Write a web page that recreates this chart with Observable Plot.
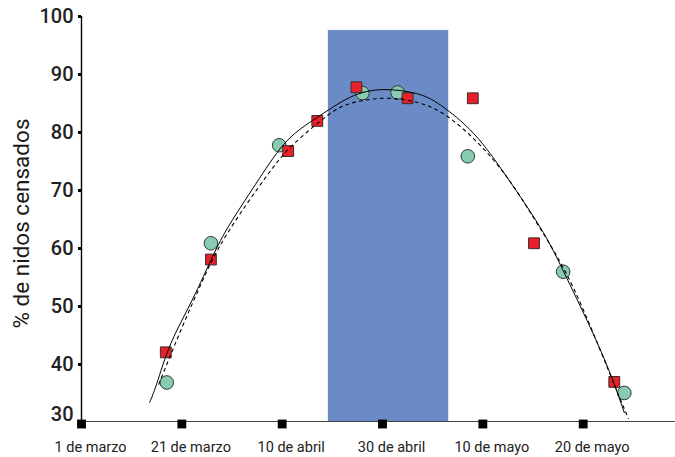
<!DOCTYPE html>
<html>
<head>
<meta charset="utf-8">
<script src="https://cdn.jsdelivr.net/npm/d3@7"></script>
<script src="https://cdn.jsdelivr.net/npm/@observablehq/plot@0.6"></script>
<style>
  html, body { margin: 0; padding: 0; background: #fff; }
  #chart svg { display: block; }
</style>
</head>
<body>
<div id="chart"></div>
<script>
// X tick positions (ordinal index) and labels
const tickPos = [0, 1, 2, 3, 4, 5];
const tickLabels = ["1 de marzo", "21 de marzo", "10 de abril", "30 de abril", "10 de mayo", "20 de mayo"];
const yTicks = [40, 50, 60, 70, 80, 90, 100];
const yBase = [30];

// Shaded period (in tick-index units)
const bandX1 = [2.46];
const bandX2 = [3.66];
const bandTop = [97.6];

// Series 1: circles
const circleX = [0.85, 1.29, 1.97, 2.80, 3.15, 3.85, 4.80, 5.41];
const circleY = [36.9, 60.9, 77.8, 86.8, 86.9, 75.9, 56.0, 35.1];

// Series 2: squares
const squareX = [0.84, 1.29, 2.06, 2.35, 2.74, 3.25, 3.90, 4.51, 5.31];
const squareY = [42.1, 58.1, 76.8, 82.0, 87.8, 85.9, 85.9, 60.9, 37.0];

// Fitted curves
const solidX = [0.68, 0.75, 0.89, 1.10, 1.32, 1.50, 1.77, 2.05, 2.35, 2.68, 3.01, 3.34, 3.58, 3.91, 4.24, 4.57, 4.80, 5.07, 5.27, 5.41];
const solidY = [33.5, 36.7, 43.6, 51.0, 59.1, 64.8, 72.0, 78.6, 82.6, 86.1, 87.4, 86.7, 84.7, 79.8, 72.3, 63.7, 56.2, 46.4, 38.4, 31.7];
const dashX = [0.77, 0.99, 1.20, 1.45, 1.85, 2.12, 2.45, 2.68, 3.01, 3.34, 3.61, 3.91, 4.24, 4.57, 4.90, 5.24, 5.45];
const dashY = [36.6, 45.9, 54.2, 62.5, 72.6, 78.1, 82.9, 85.0, 85.9, 85.2, 83.2, 78.9, 72.3, 63.5, 53.3, 39.5, 30.7];

const circles = circleX.map((x, i) => ({x, y: circleY[i]}));
const squares = squareX.map((x, i) => ({x, y: squareY[i]}));
const solid = solidX.map((x, i) => ({x, y: solidY[i]}));
const dashed = dashX.map((x, i) => ({x, y: dashY[i]}));
const band = bandX1.map((x1, i) => ({x1, x2: bandX2[i], top: bandTop[i]}));
const xticks = tickPos.map((x, i) => ({x, label: tickLabels[i]}));

const chart = Plot.plot({
  width: 675,
  height: 457,
  marginLeft: 81,
  marginRight: 0,
  marginTop: 16,
  marginBottom: 35,
  style: {fontFamily: "Roboto, 'Liberation Sans', sans-serif", background: "#fff"},
  x: {domain: [0, 5.92], axis: null},
  y: {domain: [30, 100], axis: null},
  marks: [
    Plot.rectY(band, {x1: "x1", x2: "x2", y1: 30, y2: "top", fill: "#6b8bc6"}),
    Plot.ruleY(yBase, {stroke: "#444", strokeWidth: 1.2, dy: -1}),
    Plot.ruleX([0], {y1: 30, y2: 100, stroke: "#000", strokeWidth: 1.4}),
    Plot.axisY(yTicks, {tickSize: 3, tickPadding: 5, strokeWidth: 3, fontSize: 20, fontWeight: 500, fill: "#222", label: null}),
    Plot.text(yBase, {x: 0, y: d => d, text: d => String(d), textAnchor: "end", dx: -8, dy: -8, fontSize: 20, fontWeight: 500, fill: "#222"}),
    Plot.text(["% de nidos censados"], {frameAnchor: "left", textAnchor: "middle", rotate: -90, dx: -60, dy: 4, fontSize: 22.5, fill: "#1a1a1a"}),
    Plot.dot(circles, {x: "x", y: "y", r: 6.8, fill: "#88cbb0", stroke: "#2b3a33", strokeWidth: 1}),
    Plot.dot(squares, {x: "x", y: "y", symbol: "square", r: 6.1, fill: "#e8202a", stroke: "#3a2b2b", strokeWidth: 1}),
    Plot.line(solid, {x: "x", y: "y", curve: "natural", stroke: "#000", strokeWidth: 1}),
    Plot.line(dashed, {x: "x", y: "y", curve: "natural", stroke: "#000", strokeWidth: 1.1, strokeDasharray: "3,4"}),
    Plot.dot(xticks, {x: "x", y: 30, symbol: "square", r: 5, fill: "#000", dy: 1.5}),
    Plot.text(xticks, {x: "x", y: 30, text: "label", dx: 9, dy: 25, fontSize: 14.5, fill: "#222"})
  ]
});
document.getElementById("chart").appendChild(chart);
</script>
</body>
</html>
